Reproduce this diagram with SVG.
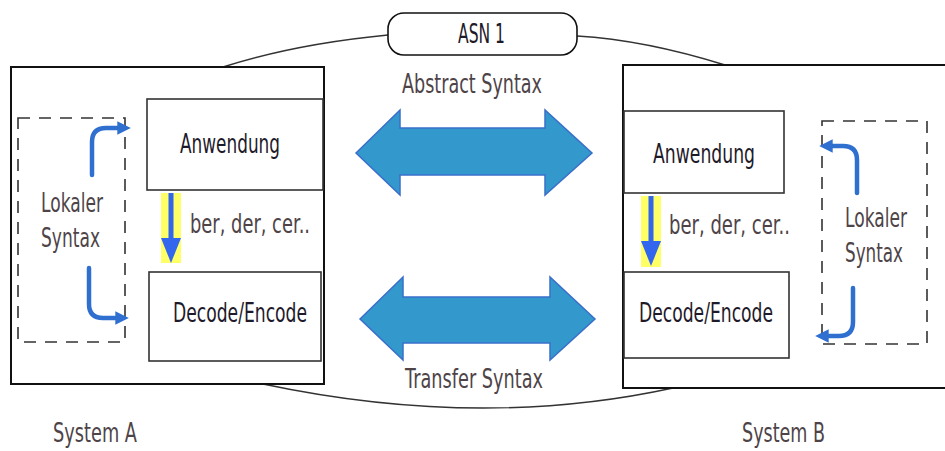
<svg xmlns="http://www.w3.org/2000/svg" width="945" height="451" viewBox="0 0 945 451">
<style>
.outer{fill:#fff;stroke:#111;stroke-width:2}
.box{fill:#fff;stroke:#333;stroke-width:1.6}
.dash{fill:none;stroke:#333;stroke-width:1.6;stroke-dasharray:12 9}
.conn{fill:none;stroke:#333;stroke-width:1.4}
.curl{fill:none;stroke:#2f6fd0;stroke-width:4.5;stroke-linecap:round}
.big{fill:#3398cc;stroke:#3a6fc9;stroke-width:1.5}
.t{font-family:"DejaVu Sans","Liberation Sans",Arial,sans-serif;font-size:26px}
.dark{fill:#1e1a2a}
.lab{fill:#4e4448}
</style>
<defs>
<marker id="ah" viewBox="0 0 10 10" refX="2" refY="5" markerWidth="3" markerHeight="3" orient="auto">
<path d="M0,0 L10,5 L0,10 z" fill="#2f6fd0"/>
</marker>
</defs>
<g id="connectors">
<path class="conn" d="M223,67 Q295,44 388,35"/>
<path class="conn" d="M577,36 Q645,40 725,65"/>
<path class="conn" d="M263,384 Q480,430 673,388"/>
</g>
<g id="systemA">
<rect class="outer" x="11" y="67" width="313" height="317"/>
</g>
<g id="systemB">
<rect class="outer" x="623" y="65" width="330" height="323"/>
</g>
<g id="asn1">
<rect x="388" y="13" width="189" height="42" rx="16" fill="#fff" stroke="#111" stroke-width="1.6"/>
<text class="t dark" x="458" y="43" textLength="47" lengthAdjust="spacingAndGlyphs">ASN 1</text>
</g>
<g id="anwendungA">
<rect class="box" x="147" y="99" width="176" height="91"/>
<text class="t dark" x="180" y="153" textLength="100" lengthAdjust="spacingAndGlyphs">Anwendung</text>
</g>
<g id="decodeA">
<rect class="box" x="149" y="272" width="172" height="89"/>
<text class="t dark" x="173" y="322" textLength="134" lengthAdjust="spacingAndGlyphs">Decode/Encode</text>
</g>
<g id="lokalA">
<rect class="dash" x="18" y="118" width="107" height="224"/>
<text class="t lab" x="41" y="212" textLength="62" lengthAdjust="spacingAndGlyphs">Lokaler</text>
<text class="t lab" x="41" y="247" textLength="59" lengthAdjust="spacingAndGlyphs">Syntax</text>
<path class="curl" d="M92,175 L92,142 Q92,128 106,128 L120,128" marker-end="url(#ah)"/>
<path class="curl" d="M89,268 L89,304 Q89,318 103,318 L118,318" marker-end="url(#ah)"/>
</g>
<g id="berA">
<rect x="161" y="193" width="20" height="70" fill="#ffff66"/>
<rect x="168.5" y="193" width="5" height="46" fill="#3366ee"/>
<path d="M161,238 L181,238 L171,263 z" fill="#3366ee"/>
<text class="t lab" x="190" y="233" textLength="120" lengthAdjust="spacingAndGlyphs">ber, der, cer..</text>
</g>
<g id="anwendungB">
<rect class="box" x="624" y="111" width="160" height="82"/>
<text class="t dark" x="653" y="163" textLength="102" lengthAdjust="spacingAndGlyphs">Anwendung</text>
</g>
<g id="decodeB">
<rect class="box" x="624" y="272" width="165" height="86"/>
<text class="t dark" x="639" y="322" textLength="134" lengthAdjust="spacingAndGlyphs">Decode/Encode</text>
</g>
<g id="lokalB">
<rect class="dash" x="822" y="121" width="105" height="223"/>
<text class="t lab" x="845" y="227" textLength="62" lengthAdjust="spacingAndGlyphs">Lokaler</text>
<text class="t lab" x="845" y="262" textLength="58" lengthAdjust="spacingAndGlyphs">Syntax</text>
<path class="curl" d="M857,193 L857,160 Q857,146 843,146 L830,146" marker-end="url(#ah)"/>
<path class="curl" d="M853,288 L853,322 Q853,336 839,336 L826,336" marker-end="url(#ah)"/>
</g>
<g id="berB">
<rect x="641" y="196" width="20" height="71" fill="#ffff66"/>
<rect x="648.5" y="196" width="5" height="46" fill="#3366ee"/>
<path d="M641,241 L661,241 L651,266 z" fill="#3366ee"/>
<text class="t lab" x="669" y="234" textLength="121" lengthAdjust="spacingAndGlyphs">ber, der, cer..</text>
</g>
<g id="abstract">
<text class="t lab" x="402" y="93" textLength="140" lengthAdjust="spacingAndGlyphs">Abstract Syntax</text>
<polygon class="big" points="356,153 400,110 400,128 545,128 545,110 592,153 545,195 545,175 400,175 400,195"/>
</g>
<g id="transfer">
<polygon class="big" points="360,319 403,277 403,297 550,297 550,277 595,319 550,360 550,343 403,343 403,360"/>
<text class="t lab" x="405" y="388" textLength="138" lengthAdjust="spacingAndGlyphs">Transfer Syntax</text>
</g>
<g id="labels">
<text class="t lab" x="53" y="442" textLength="84" lengthAdjust="spacingAndGlyphs">System A</text>
<text class="t lab" x="742" y="442" textLength="83" lengthAdjust="spacingAndGlyphs">System B</text>
</g>
</svg>
